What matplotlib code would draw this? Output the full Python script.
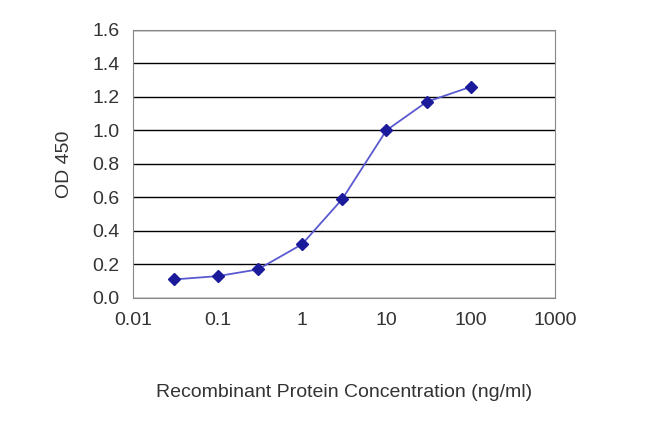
import matplotlib
matplotlib.use("Agg")
import matplotlib.pyplot as plt

plt.rcParams["font.family"] = ["Liberation Sans", "DejaVu Sans"]

conc = [0.03, 0.1, 0.3, 1, 3, 10, 30, 100]
od450 = [0.11, 0.13, 0.17, 0.32, 0.59, 1.00, 1.17, 1.26]
x_ticks = [0.01, 0.1, 1, 10, 100, 1000]
x_labels = ["0.01", "0.1", "1", "10", "100", "1000"]
y_ticks = [0.0, 0.2, 0.4, 0.6, 0.8, 1.0, 1.2, 1.4, 1.6]

fig = plt.figure(figsize=(6.5, 4.33), dpi=100)
ax = fig.add_axes([0.205, 0.312, 0.649, 0.619])
color = "#1a1a9a"
ax.plot(conc, od450, color="#5a5ad0", linewidth=1.3, zorder=3)
ax.plot(conc, od450, linestyle="none", marker="D", markersize=6,
        color=color, zorder=4)
ax.set_xscale("log")
ax.set_xlim(0.01, 1000)
ax.set_ylim(0, 1.6)
ax.set_xticks(x_ticks)
ax.set_xticklabels(x_labels)
ax.minorticks_off()
ax.set_yticks(y_ticks)
ax.set_yticklabels([f"{v:.1f}" for v in y_ticks])
ax.yaxis.grid(True, color="black", linewidth=1)
ax.set_axisbelow(True)
for s in ax.spines.values():
    s.set_color("#888888")
ax.tick_params(labelsize=14, colors="#333333", length=0, pad=10)
ax.set_ylabel("OD 450", fontsize=14, color="#333333", labelpad=14)
ax.set_xlabel("Recombinant Protein Concentration (ng/ml)", fontsize=14,
              color="#333333", labelpad=40)
fig.savefig("out.png", dpi=100)
